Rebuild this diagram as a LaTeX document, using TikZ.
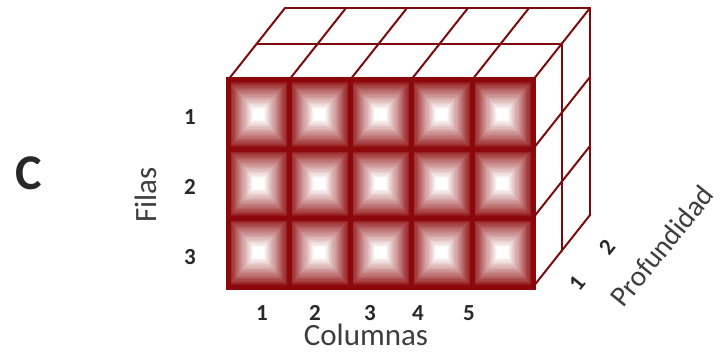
\documentclass[tikz,border=0pt]{standalone}
\usepackage{fontspec}
\setmainfont{Carlito}
\definecolor{drk}{RGB}{140,8,10}
\definecolor{wire}{RGB}{125,10,12}
\definecolor{txt}{RGB}{40,40,40}
\begin{document}
\begin{tikzpicture}[x=1pt,y=-1pt,
  wireline/.style={draw=wire,line width=2pt,line cap=round,line join=round},
  frontline/.style={draw=drk,line width=5pt,line cap=rect},
  num/.style={text=txt,font=\fontsize{23}{24}\selectfont\bfseries,inner sep=0pt},
  lbl/.style={text=txt!75!gray,font=\fontsize{31}{33}\selectfont,inner sep=0pt},
  big/.style={text=txt,font=\fontsize{50}{54}\selectfont\bfseries,inner sep=0pt}]
\useasboundingbox (0,0) rectangle (723,353);
% geometry
\def\xa{228}\def\yt{80}\def\yb{287}
\def\cw{61}\def\rh{69}
\def\dx{28.5}\def\dy{-36}
% cells with square gradient
\foreach \c in {0,...,4}{
  \foreach \r in {0,...,2}{
    \pgfmathsetmacro\xl{\xa+\c*\cw}
    \pgfmathsetmacro\yl{\yt+\r*\rh}
    \foreach \i in {0,...,24}{
      \pgfmathsetmacro\p{min(100,100*(\i/24)^0.9*1.05)}
      \pgfmathsetmacro\mx{\i/24*0.5*(\cw-8)}
      \pgfmathsetmacro\my{\i/24*0.5*(\rh-8)}
      \fill[white!\p!drk] (\xl+\mx,\yl+\my) rectangle (\xl+\cw-\mx,\yl+\rh-\my);
    }
  }
}
% front grid
\foreach \c in {0,...,5}{
  \draw[frontline] (\xa+\c*\cw,\yt) -- (\xa+\c*\cw,\yb);
}
\foreach \r in {0,...,3}{
  \draw[frontline] (\xa,\yt+\r*\rh) -- (\xa+5*\cw,\yt+\r*\rh);
}
% top face
\foreach \c in {0,...,5}{
  \draw[wireline] (\xa+\c*\cw,\yt) -- (\xa+\c*\cw+2*\dx,\yt+2*\dy);
}
\foreach \k in {1,2}{
  \draw[wireline] (\xa+\k*\dx,\yt+\k*\dy) -- (\xa+5*\cw+\k*\dx,\yt+\k*\dy);
}
% right face
\foreach \r in {1,...,3}{
  \draw[wireline] (\xa+5*\cw,\yt+\r*\rh) -- (\xa+5*\cw+2*\dx,\yt+\r*\rh+2*\dy);
}
\foreach \k in {1,2}{
  \draw[wireline] (\xa+5*\cw+\k*\dx,\yt+\k*\dy) -- (\xa+5*\cw+\k*\dx,\yb+\k*\dy);
}
% labels
\node[big] (C) at (29,173) {C};
\node[lbl,rotate=90] (filas) at (146,195) {Filas};
\node[num] (f1) at (190,117) {1};
\node[num] (f2) at (190,187) {2};
\node[num] (f3) at (190,257) {3};
\node[num] (c1) at (262,313) {1};
\node[num] (c2) at (315,313) {2};
\node[num] (c3) at (370,313) {3};
\node[num] (c4) at (418,313) {4};
\node[num] (c5) at (469,313) {5};
\node[lbl] (col) at (366,335) {Columnas};
\node[num,rotate=51] (p1) at (577,283) {1};
\node[num,rotate=51] (p2) at (607,247) {2};
\node[lbl,rotate=51,font=\fontsize{29}{31}\selectfont] (prof) at (662,246) {Profundidad};
\end{tikzpicture}
\end{document}
